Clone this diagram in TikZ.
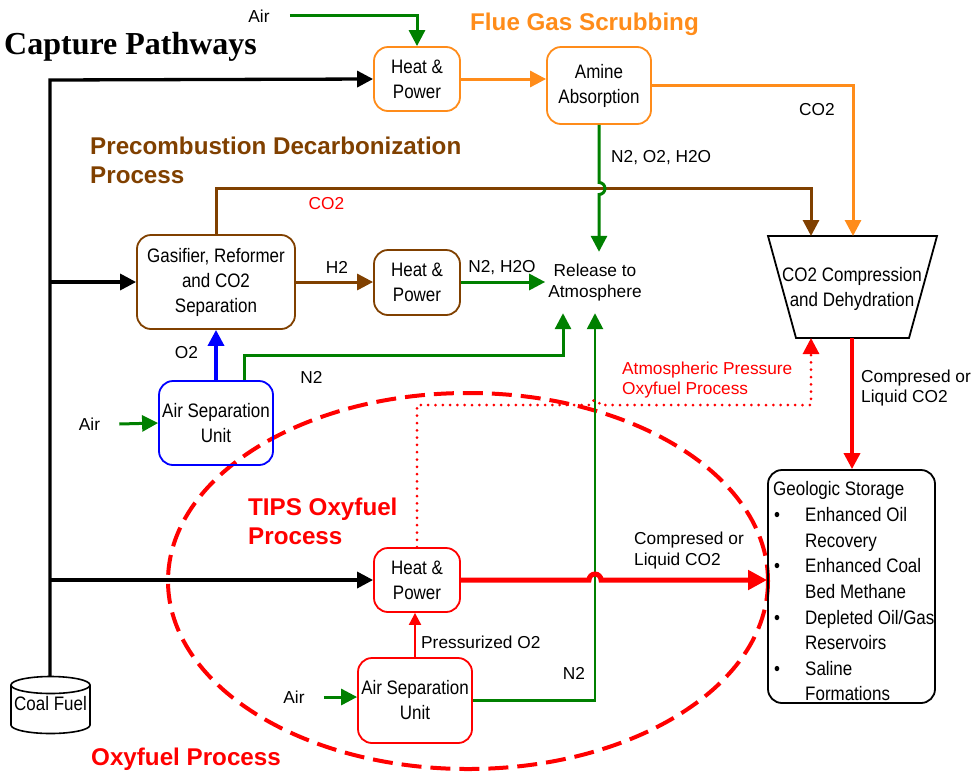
\documentclass[tikz,border=0pt]{standalone}
\usepackage{fontspec}
\setmainfont{Liberation Sans}
\newfontfamily\narrowf[FakeStretch=0.87]{Liberation Sans}
\newfontfamily\timesf{Liberation Serif}
\usetikzlibrary{arrows.meta}
\definecolor{cOr}{RGB}{255,140,26}
\definecolor{cBr}{RGB}{128,64,0}
\definecolor{cGr}{RGB}{0,128,0}
\definecolor{cBl}{RGB}{0,0,255}
\definecolor{cRd}{RGB}{255,0,0}
\newcommand\bxfont{\narrowf\fontsize{19.5}{25}\selectfont}
\newcommand\lbfont{\fontsize{17.3}{20.7}\selectfont}
\newcommand\ttlfont{\bfseries\fontsize{24.2}{28.5}\selectfont}
\tikzset{
  box/.style={draw, rounded corners=14pt, line width=1.8pt, align=center, inner sep=0pt, font=\bxfont},
  lbl/.style={inner sep=0pt, font=\lbfont, align=left},
  ttl/.style={inner sep=0pt, font=\ttlfont, align=left},
  gst/.style={inner sep=0pt, font=\bxfont, anchor=base west},
  arr/.style={-{Triangle[length=16pt,width=16pt]}},
  arrbig/.style={-{Triangle[length=19pt,width=19pt]}},
  arrsm/.style={-{Triangle[length=12pt,width=12pt]}},
  bkl/.style={draw=black, line width=3.3pt},
  orl/.style={draw=cOr, line width=3pt},
  grl/.style={draw=cGr, line width=3pt},
  grthin/.style={draw=cGr, line width=2.6pt},
  brl/.style={draw=cBr, line width=3pt},
  bll/.style={draw=cBl, line width=3.5pt},
  rdthick/.style={draw=cRd, line width=5pt},
  rdthin/.style={draw=cRd, line width=2pt},
  rddot/.style={draw=cRd, line width=3pt, line cap=round, dash pattern=on 0pt off 7.3pt},
}
\begin{document}
\begin{tikzpicture}[x=1pt,y=-1pt]
\useasboundingbox (0,0) rectangle (973,774);

% oxyfuel envelope
\draw[cRd, line width=4pt, dash pattern=on 20pt off 9pt] (468,581) ellipse [x radius=300, y radius=188];

% titles
\node[inner sep=0pt, font=\timesf\bfseries\fontsize{32}{36}\selectfont, anchor=base west] (tcap) at (4,54) {Capture Pathways};
\node[ttl, text=cOr, anchor=base west] (tflue) at (470,30) {Flue Gas Scrubbing};
\node[ttl, text=cBr, anchor=west] (tpre) at (90,160.5) {Precombustion Decarbonization\\Process};
\node[ttl, text=cRd, anchor=west] (ttips) at (248,521.5) {TIPS Oxyfuel\\Process};
\node[ttl, text=cRd, anchor=base west] (toxy) at (91,765) {Oxyfuel Process};

% boxes
\node[box, draw=cOr, minimum width=86pt, minimum height=64pt] (hp1) at (417,79) {Heat \&\\Power};
\node[box, draw=cOr, minimum width=104pt, minimum height=77pt] (amine) at (599,85.5) {Amine\\Absorption};
\node[box, draw=cBr, minimum width=158pt, minimum height=94pt] (gas) at (216,282) {Gasifier, Reformer\\and CO2\\Separation};
\node[box, draw=cBr, minimum width=86pt, minimum height=65pt] (hp2) at (417,282.5) {Heat \&\\Power};
\node[box, draw=cBl, minimum width=114pt, minimum height=84pt] (asu1) at (216,423) {Air Separation\\Unit};
\node[box, draw=cRd, minimum width=86pt, minimum height=64pt] (hp3) at (417,580) {Heat \&\\Power};
\node[box, draw=cRd, minimum width=114pt, minimum height=85pt] (asu2) at (415,700.5) {Air Separation\\Unit};
\node[box, draw=black, minimum width=167pt, minimum height=233pt] (stor) at (851.5,586.5) {};
\node[lbl, align=center, minimum height=61pt, inner xsep=3pt] (rel) at (595,282.5) {Release to\\Atmosphere};

% compression trapezoid
\draw[line width=1.8pt] (768,236) -- (937,236) -- (909,338) -- (796,338) -- cycle;
\node[inner sep=0pt, font=\bxfont, align=center] (comp) at (852,289) {CO2 Compression\\and Dehydration};
\coordinate (compIn1) at (811,236);
\coordinate (compIn2) at (853,236);
\coordinate (compOut) at (852,338);
\coordinate (compIn3) at (811,338);

% coal cylinder
\draw[line width=1.6pt, fill=white] (11,685) -- (11,725) arc[start angle=180, end angle=0, x radius=39.5, y radius=8.5] -- (90,685);
\draw[line width=1.6pt, fill=white] (50.5,685) ellipse [x radius=39.5, y radius=8.5];
\node[inner sep=0pt, font=\bxfont] (coal) at (50.5,704) {Coal Fuel};
\coordinate (coaltop) at (50,676.5);
\coordinate (trunk) at (50,80);

% storage text
\node[gst] (gs0) at (773,495) {Geologic Storage};
\node[gst] (gb1) at (774,521.5) {•};
\node[gst] (gs1) at (805,521.5) {Enhanced Oil};
\node[gst] (gs2) at (805,547.3) {Recovery};
\node[gst] (gb3) at (774,572.5) {•};
\node[gst] (gs3) at (805,572.5) {Enhanced Coal};
\node[gst] (gs4) at (805,598.3) {Bed Methane};
\node[gst] (gb5) at (774,624) {•};
\node[gst] (gs5) at (805,624) {Depleted Oil/Gas};
\node[gst] (gs6) at (805,649.5) {Reservoirs};
\node[gst] (gb7) at (774,675) {•};
\node[gst] (gs7) at (805,675) {Saline};
\node[gst] (gs8) at (805,700.5) {Formations};

% labels
\node[lbl] (airtop) at (259,16.7) {Air};
\node[lbl] (lco2a) at (817,110) {CO2};
\node[lbl, anchor=west] (lnoh) at (611,157.5) {N2, O2, H2O};
\node[lbl, text=cRd] (lco2b) at (326.5,204) {CO2};
\node[lbl] (lh2) at (337,267) {H2};
\node[lbl] (lnh) at (502,267.5) {N2, H2O};
\node[lbl] (lo2) at (186.5,353) {O2};
\node[lbl] (ln2a) at (311.5,377) {N2};
\node[lbl] (air1) at (89.5,424) {Air};
\node[lbl, text=cRd, anchor=west] (latm) at (622,380) {Atmospheric Pressure\\Oxyfuel Process};
\node[lbl, anchor=west] (lcmp1) at (861,388) {Compresed or\\Liquid CO2};
\node[lbl, anchor=west] (lcmp2) at (634,550.5) {Compresed or\\Liquid CO2};
\node[lbl, anchor=west] (lpo2) at (421,642.5) {Pressurized O2};
\node[lbl] (ln2b) at (574,673) {N2};
\node[lbl] (air2) at (294,697) {Air};

% connectors
\coordinate (brC) at (811,188.5);
\coordinate (n2c) at (563,355);
\coordinate (dotA) at (590,405);
\coordinate (dotB) at (811,405);

\draw[grl, arr] ([xshift=20pt]airtop.east |- 0,15.7) -| (hp1.north);
\draw[bkl, arr] (coaltop) -- (trunk) -- (hp1.west);
\draw[bkl, arr] (gas.west -| trunk) -- (gas.west);
\draw[bkl, arr] (hp3.west -| trunk) -- (hp3.west);
\draw[orl, arr] (hp1.east) -- (amine.west |- hp1.east);
\draw[orl, arr] (amine.east) -| (compIn2);
\draw[brl, arr] (gas.north) |- (brC) -- (compIn1);
\draw[grl, arr] (amine.south) -- (599,182.5) arc[start angle=-90, end angle=90, radius=6] -- (rel.north -| amine.south);
\draw[brl, arr] (gas.east) -- (hp2.west |- gas.east);
\draw[grl, arr] (hp2.east |- gas.east) -- (rel.west |- gas.east);
\draw[bll, arr] (asu1.north) -- (gas.south);
\draw[grl, arr] ([xshift=28pt]asu1.north) |- (n2c) -- (n2c |- rel.south);
\draw[grl, arr] ([xshift=19pt]air1.east) -- (asu1.west);
\draw[grl, arr] ([xshift=19pt]air2.east) -- (asu2.west |- air2.east);
\draw[grthin, arr] (asu2.east) -| (rel.south);
\draw[rdthin, arrsm] (asu2.north) -- (hp3.south -| asu2.north);
\draw[rdthick, arrbig] (hp3.east) -- (589,580) arc[start angle=180, end angle=360, radius=6] -- (stor.west |- hp3.east);
\draw[rddot, arr] (hp3.north) |- (dotA) arc[start angle=180, end angle=360, radius=5] -- (dotB) -- (compIn3);
\draw[draw=cRd, line width=3.5pt, arr] (compOut) -- (stor.north -| compOut);
\end{tikzpicture}
\end{document}
